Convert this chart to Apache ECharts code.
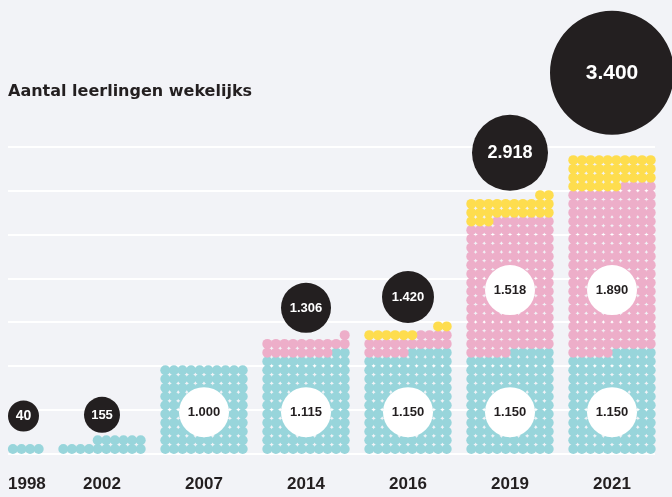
<!DOCTYPE html>
<html>
<head>
<meta charset="utf-8">
<script src="https://cdn.jsdelivr.net/npm/echarts@6/dist/echarts.min.js"></script>
<style>
  html, body { margin: 0; padding: 0; background: #f2f3f7; }
  #chart { width: 672px; height: 497px; }
</style>
</head>
<body>
<div id="chart"></div>
<script>
// ---- data ----
const years  = ['1998', '2002', '2007', '2014', '2016', '2019', '2021'];
const cyan   = [40, 155, 1000, 1115, 1150, 1150, 1150];
const pink   = [0, 0, 0, 191, 190, 1518, 1890];
const yellow = [0, 0, 0, 0, 80, 250, 360];
const totals = [40, 155, 1000, 1306, 1420, 2918, 3400];
const yTicks = [0, 500, 1000, 1500, 2000, 2500, 3000, 3500];

// ---- style ----
const COL = { cyan: '#98d5db', pink: '#edaec9', yellow: '#fedd4e', ink: '#231f20', bg: '#f2f3f7' };
const GRID = { left: 8, right: 17, top: 147, bottom: 43.7 };
const DOT_R = 5;
const PER_DOT = 10, PER_ROW = 100, COLS = 10;
const bubbleR   = [15.5, 18, 0, 25, 26, 38, 62];
const bubbleGap = [13, 3, 0, -2, -1, 0, 21];
const bubbleFont = [14, 13, 13, 13, 13, 18, 21];
const NUM_FONT = '"Liberation Sans", Arial, sans-serif';

function fmt(n) { return String(n).replace(/\B(?=(\d{3})+(?!\d))/g, '.'); }

function dotsRender(params, api) {
  const i = api.value(0), from = api.value(1), to = api.value(2);
  const k0 = Math.round(from / PER_DOT), k1 = Math.round(to / PER_DOT);
  const cx = api.coord([i, 0])[0];
  const pitch = api.size([1, 0])[0] * 0.0843;
  const color = api.visual('color');
  const children = [];
  for (let k = k0; k < k1; k++) {
    const row = Math.floor(k / COLS), col = k % COLS;
    const y = api.coord([i, (row + 0.5) * PER_ROW])[1];
    const x = cx + (COLS / 2 - 0.5 - col) * pitch;
    children.push({ type: 'circle', shape: { cx: x, cy: y, r: DOT_R }, style: { fill: color } });
  }
  return { type: 'group', children };
}

function labelRender(params, api) {
  const i = api.value(0), total = api.value(1), cy = api.value(2), pk = api.value(3);
  const cx = api.coord([i, 0])[0];
  const children = [];
  // black total bubble
  const r = bubbleR[i];
  if (r > 0) {
    const rows = Math.ceil(Math.round(total / PER_DOT) / COLS);
    const top = api.coord([i, rows * PER_ROW])[1];
    const bx = Math.max(cx, GRID.left + r);
    const by = top - bubbleGap[i] - r;
    children.push({ type: 'circle', shape: { cx: bx, cy: by, r: r }, style: { fill: COL.ink } });
    children.push({ type: 'text', x: bx, y: by + 0.5, style: {
      text: fmt(total), fill: '#fff', align: 'center', verticalAlign: 'middle',
      font: 'bold ' + bubbleFont[i] + 'px ' + NUM_FONT } });
  }
  // white segment bubbles
  const segs = [[cy, 470], [pk, 1865]];
  segs.forEach(function (s) {
    if (s[0] >= 500) {
      const p = api.coord([i, s[1]]);
      children.push({ type: 'circle', shape: { cx: cx, cy: p[1], r: 25 }, style: { fill: '#fff' } });
      children.push({ type: 'text', x: cx, y: p[1] + 0.5, style: {
        text: fmt(s[0]), fill: COL.ink, align: 'center', verticalAlign: 'middle',
        font: 'bold 13px ' + NUM_FONT } });
    }
  });
  // year label
  const halfW = 19;
  const left = cx - halfW < GRID.left;
  children.push({ type: 'text', x: left ? GRID.left : cx, y: 484, style: {
    text: years[i], fill: COL.ink, align: left ? 'left' : 'center', verticalAlign: 'middle',
    font: 'bold 17px ' + NUM_FONT } });
  return { type: 'group', children };
}

const chart = echarts.init(document.getElementById('chart'), null, { renderer: 'canvas' });
const unit = 102;
chart.setOption({
  backgroundColor: COL.bg,
  animation: false,
  title: {
    text: 'Aantal leerlingen wekelijks', left: 8, top: 84, padding: 0,
    textStyle: { fontFamily: '"DejaVu Sans", sans-serif', fontWeight: 'bold', fontSize: 16, color: COL.ink }
  },
  grid: GRID,
  xAxis: { type: 'value', min: GRID.left / unit, max: (672 - GRID.right) / unit, show: false },
  yAxis: {
    type: 'value', min: yTicks[0], max: yTicks[yTicks.length - 1], interval: yTicks[1] - yTicks[0],
    axisLabel: { show: false }, axisLine: { show: false }, axisTick: { show: false },
    splitLine: { show: true, lineStyle: { color: '#ffffff', width: 2 } }
  },
  series: [
    { type: 'custom', name: 'cyan', color: COL.cyan, renderItem: dotsRender, encode: { x: 0, y: 2 },
      data: years.map((y, i) => [i, 0, cyan[i]]) },
    { type: 'custom', name: 'pink', color: COL.pink, renderItem: dotsRender, encode: { x: 0, y: 2 },
      data: years.map((y, i) => [i, cyan[i], cyan[i] + pink[i]]) },
    { type: 'custom', name: 'yellow', color: COL.yellow, renderItem: dotsRender, encode: { x: 0, y: 2 },
      data: years.map((y, i) => [i, cyan[i] + pink[i], cyan[i] + pink[i] + yellow[i]]) },
    { type: 'custom', name: 'labels', renderItem: labelRender, encode: { x: 0, y: 1 }, z: 5,
      data: years.map((y, i) => [i, totals[i], cyan[i], pink[i]]) }
  ]
});
</script>
</body>
</html>
